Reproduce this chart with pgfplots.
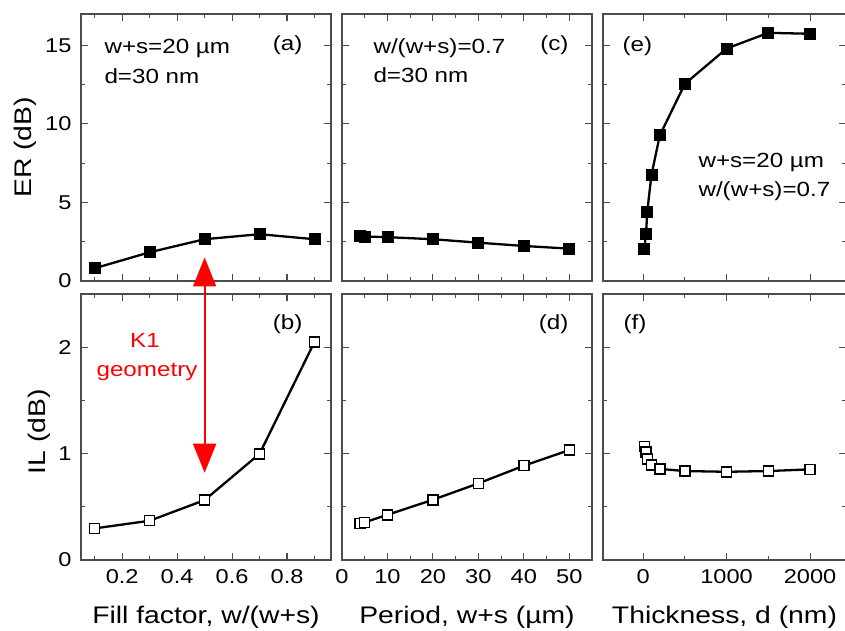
\documentclass[border=0pt]{standalone}
\usepackage{fontspec}
\setmainfont{Liberation Sans}[FakeStretch=1.18]
\usepackage{pgfplots}
\pgfplotsset{compat=1.18}
\usetikzlibrary{arrows.meta}

\definecolor{frame}{gray}{0.3}

\pgfplotsset{
  panel/.style={
    scale only axis, anchor=south west,
    width=250pt,
    axis line style={frame, line width=1.3pt},
    every tick/.style={frame, line width=1.1pt},
    major tick length=7pt, minor tick length=4pt,
    tick align=inside, xtick pos=both, ytick pos=both,
    tick label style={font=\fontsize{20}{22}\selectfont, black},
    /pgf/number format/assume math mode=true,
    /pgf/number format/1000 sep={},
    scaled ticks=false,
    xticklabel style={yshift=-6pt},
    yticklabel style={xshift=-6pt},
    label style={font=\fontsize{24}{26}\selectfont},
    xlabel style={at={(axis description cs:0.5,-0.24)}, anchor=base},
    clip=false,
  },
  er/.style={ymin=0, ymax=17, height=267pt,
    ytick={0,5,10,15}, minor ytick={2.5,7.5,12.5}, xticklabels={}},
  il/.style={ymin=0, ymax=2.5, height=266pt,
    ytick={0,1,2}, minor ytick={0.5,1.5}},
  colA/.style={xmin=0.05, xmax=0.96, xtick={0.2,0.4,0.6,0.8},
    minor xtick={0.1,0.3,0.5,0.7,0.9}},
  colC/.style={xmin=0, xmax=55, xtick={0,10,20,30,40,50},
    minor xtick={5,15,25,35,45}, yticklabels={}},
  colE/.style={xmin=-480, xmax=2430, width=243pt, xtick={0,1000,2000},
    minor xtick={500,1500}, yticklabels={}},
  filled/.style={black, line width=2.3pt, mark=square*, mark size=5.5pt,
    mark options={solid, fill=black, line width=0.8pt}},
  open/.style={black, line width=2.3pt, mark=square*, mark size=5pt,
    mark options={solid, fill=white, draw=black, line width=1.5pt}},
}

\newcommand{\annot}{\fontsize{20.5}{23}\selectfont}

\begin{document}
\begin{tikzpicture}
\useasboundingbox (0,0) rectangle (845pt,631pt);

% top row: ER
\begin{axis}[panel, er, colA, at={(81pt,350pt)},
    ylabel={ER (dB)}, ylabel style={at={(axis description cs:-0.198,0.5)}, anchor=base}]
  \addplot[filled] coordinates {(0.1,0.81) (0.3,1.83) (0.5,2.66) (0.7,2.98) (0.9,2.66)};
  \coordinate (arrtop) at (axis cs:0.5,1.5);
\end{axis}

\begin{axis}[panel, er, colC, at={(342pt,350pt)}]
  \addplot[filled] coordinates {(4,2.85) (5,2.83) (10,2.79) (20,2.66) (30,2.44) (40,2.23) (50,2.06)};
\end{axis}

\begin{axis}[panel, er, colE, at={(603pt,350pt)}]
  \addplot[filled] coordinates {(15,2.05) (35,2.99) (50,4.42) (100,6.75) (200,9.27)
    (500,12.55) (1000,14.8) (1500,15.8) (2000,15.74)};
\end{axis}

% bottom row: IL
\begin{axis}[panel, il, colA, at={(81pt,71pt)},
    xlabel={Fill factor, w/(w+s)},
    ylabel={IL (dB)}, ylabel style={at={(axis description cs:-0.142,0.482)}, anchor=base}]
  \addplot[open] coordinates {(0.1,0.297) (0.3,0.369) (0.5,0.563) (0.7,0.998) (0.9,2.05)};
  \coordinate (arrbot) at (axis cs:0.5,0.82);
\end{axis}

\begin{axis}[panel, il, colC, at={(342pt,71pt)}, xlabel={Period, w+s (µm)}]
  \addplot[open] coordinates {(4,0.345) (5,0.354) (10,0.425) (20,0.566) (30,0.72) (40,0.886) (50,1.033)};
\end{axis}

\begin{axis}[panel, il, colE, at={(603pt,71pt)}, xlabel={Thickness, d (nm)}]
  \addplot[open] coordinates {(15,1.068) (35,1.017) (50,0.95) (100,0.892) (200,0.856)
    (500,0.836) (1000,0.829) (1500,0.836) (2000,0.852)};
\end{axis}

% K1 arrow
\draw[red, line width=1.8pt, {Triangle[width=23pt,length=29pt]}-{Triangle[width=23pt,length=29pt]}]
  (arrtop) -- (arrbot);
\node[red, anchor=base, font=\annot] at (145pt,283pt) {K1};
\node[red, anchor=base, font=\annot] at (147pt,254pt) {geometry};

% panel annotations
\node[anchor=base west, font=\annot] at (101pt,577pt) {w+s=20 µm};
\node[anchor=base west, font=\annot] at (101pt,547pt) {d=30 nm};
\node[anchor=base east, font=\annot] at (306pt,580pt) {(a)};
\node[anchor=base west, font=\annot] at (370pt,577pt) {w/(w+s)=0.7};
\node[anchor=base west, font=\annot] at (370pt,548pt) {d=30 nm};
\node[anchor=base east, font=\annot] at (572pt,580pt) {(c)};
\node[anchor=base west, font=\annot] at (619pt,579pt) {(e)};
\node[anchor=base west, font=\annot] at (695pt,463pt) {w+s=20 µm};
\node[anchor=base west, font=\annot] at (695pt,434pt) {w/(w+s)=0.7};
\node[anchor=base east, font=\annot] at (306pt,301pt) {(b)};
\node[anchor=base east, font=\annot] at (572pt,301pt) {(d)};
\node[anchor=base west, font=\annot] at (620pt,301pt) {(f)};
\end{tikzpicture}
\end{document}
